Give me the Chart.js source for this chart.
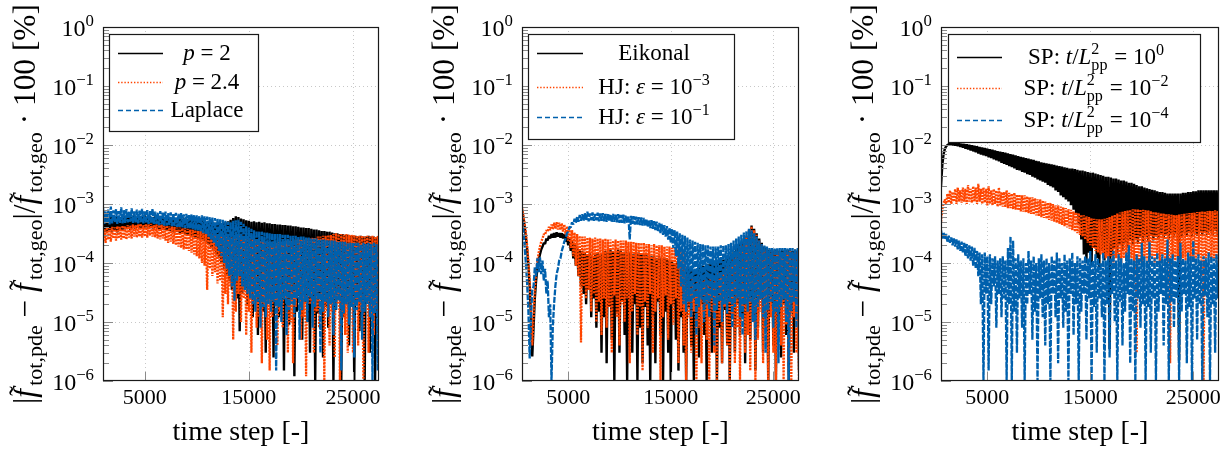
<!DOCTYPE html>
<html>
<head>
<meta charset="utf-8">
<script src="https://cdn.jsdelivr.net/npm/chart.js@4.4.1/dist/chart.umd.min.js"></script>
<style>
  html, body { margin: 0; padding: 0; background: #fff; }
  #wrap { position: relative; width: 1232px; height: 457px; overflow: hidden; }
  canvas { position: absolute; top: 0; }
  #warn { position: absolute; left: 300px; top: 200px; color: red; font: 20px sans-serif; }
</style>
</head>
<body>
<div id="wrap">
  <canvas id="chartA" width="400" height="457" style="left:0px"></canvas>
  <canvas id="chartB" width="400" height="457" style="left:410px"></canvas>
  <canvas id="chartC" width="412" height="457" style="left:820px"></canvas>
  <div id="warn"></div>
</div>
<script>
// time steps of the first panel (p-Poisson runs start later)
const stepsA = [
  1000, 1125, 1250, 1375, 1500, 1625, 1750, 1875, 2000, 2125, 2250, 2375, 2500, 2625, 2750, 2875,
  3000, 3125, 3250, 3375, 3500, 3625, 3750, 3875, 4000, 4125, 4250, 4375, 4500, 4625, 4750, 4875,
  5000, 5125, 5250, 5375, 5500, 5625, 5750, 5875, 6000, 6125, 6250, 6375, 6500, 6625, 6750, 6875,
  7000, 7125, 7250, 7375, 7500, 7625, 7750, 7875, 8000, 8125, 8250, 8375, 8500, 8625, 8750, 8875,
  9000, 9125, 9250, 9375, 9500, 9625, 9750, 9875, 10000, 10125, 10250, 10375, 10500, 10625, 10750, 10875,
  11000, 11125, 11250, 11375, 11500, 11625, 11750, 11875, 12000, 12125, 12250, 12375, 12500, 12625, 12750, 12875,
  13000, 13125, 13250, 13375, 13500, 13625, 13750, 13875, 14000, 14125, 14250, 14375, 14500, 14625, 14750, 14875,
  15000, 15125, 15250, 15375, 15500, 15625, 15750, 15875, 16000, 16125, 16250, 16375, 16500, 16625, 16750, 16875,
  17000, 17125, 17250, 17375, 17500, 17625, 17750, 17875, 18000, 18125, 18250, 18375, 18500, 18625, 18750, 18875,
  19000, 19125, 19250, 19375, 19500, 19625, 19750, 19875, 20000, 20125, 20250, 20375, 20500, 20625, 20750, 20875,
  21000, 21125, 21250, 21375, 21500, 21625, 21750, 21875, 22000, 22125, 22250, 22375, 22500, 22625, 22750, 22875,
  23000, 23125, 23250, 23375, 23500, 23625, 23750, 23875, 24000, 24125, 24250, 24375, 24500, 24625, 24750, 24875,
  25000, 25125, 25250, 25375, 25500, 25625, 25750, 25875, 26000, 26125, 26250, 26375, 26500, 26625, 26750, 26875,
  27000, 27125, 27250, 27375, 27500
];
// time steps of the second and third panel
const stepsB = [
  500, 625, 750, 875, 1000, 1125, 1250, 1375, 1500, 1625, 1750, 1875, 2000, 2125, 2250, 2375,
  2500, 2625, 2750, 2875, 3000, 3125, 3250, 3375, 3500, 3625, 3750, 3875, 4000, 4125, 4250, 4375,
  4500, 4625, 4750, 4875, 5000, 5125, 5250, 5375, 5500, 5625, 5750, 5875, 6000, 6125, 6250, 6375,
  6500, 6625, 6750, 6875, 7000, 7125, 7250, 7375, 7500, 7625, 7750, 7875, 8000, 8125, 8250, 8375,
  8500, 8625, 8750, 8875, 9000, 9125, 9250, 9375, 9500, 9625, 9750, 9875, 10000, 10125, 10250, 10375,
  10500, 10625, 10750, 10875, 11000, 11125, 11250, 11375, 11500, 11625, 11750, 11875, 12000, 12125, 12250, 12375,
  12500, 12625, 12750, 12875, 13000, 13125, 13250, 13375, 13500, 13625, 13750, 13875, 14000, 14125, 14250, 14375,
  14500, 14625, 14750, 14875, 15000, 15125, 15250, 15375, 15500, 15625, 15750, 15875, 16000, 16125, 16250, 16375,
  16500, 16625, 16750, 16875, 17000, 17125, 17250, 17375, 17500, 17625, 17750, 17875, 18000, 18125, 18250, 18375,
  18500, 18625, 18750, 18875, 19000, 19125, 19250, 19375, 19500, 19625, 19750, 19875, 20000, 20125, 20250, 20375,
  20500, 20625, 20750, 20875, 21000, 21125, 21250, 21375, 21500, 21625, 21750, 21875, 22000, 22125, 22250, 22375,
  22500, 22625, 22750, 22875, 23000, 23125, 23250, 23375, 23500, 23625, 23750, 23875, 24000, 24125, 24250, 24375,
  24500, 24625, 24750, 24875, 25000, 25125, 25250, 25375, 25500, 25625, 25750, 25875, 26000, 26125, 26250, 26375,
  26500, 26625, 26750, 26875, 27000, 27125, 27250, 27375, 27500
];

// panel 1: p = 2, p = 2.4, Laplace
const p2Err = [
  5.5e-4, 3.4e-4, 6.0e-4, 3.3e-4, 5.7e-4, 3.6e-4, 6.2e-4, 3.4e-4, 5.8e-4, 3.5e-4, 6.1e-4, 3.3e-4, 5.6e-4, 3.6e-4, 6.0e-4, 3.5e-4,
  6.2e-4, 3.7e-4, 5.9e-4, 3.8e-4, 6.3e-4, 3.6e-4, 6.0e-4, 3.9e-4, 6.4e-4, 3.8e-4, 6.1e-4, 4.0e-4, 6.3e-4, 3.8e-4, 6.0e-4, 3.9e-4,
  6.4e-4, 4.0e-4, 6.1e-4, 3.8e-4, 6.3e-4, 3.9e-4, 6.0e-4, 3.7e-4, 6.2e-4, 4.0e-4, 5.9e-4, 3.8e-4, 6.1e-4, 3.7e-4, 6.0e-4, 3.6e-4,
  5.9e-4, 3.6e-4, 6.0e-4, 3.5e-4, 5.8e-4, 3.4e-4, 5.9e-4, 3.3e-4, 5.7e-4, 3.4e-4, 5.8e-4, 3.2e-4, 5.6e-4, 3.3e-4, 5.7e-4, 3.1e-4,
  5.6e-4, 3.0e-4, 5.5e-4, 2.9e-4, 5.4e-4, 2.8e-4, 5.5e-4, 2.7e-4, 5.3e-4, 2.6e-4, 5.2e-4, 2.5e-4, 5.3e-4, 2.4e-4, 5.1e-4, 2.3e-4,
  5.0e-4, 2.1e-4, 4.9e-4, 1.8e-4, 5.0e-4, 1.6e-4, 4.8e-4, 1.4e-4, 4.9e-4, 1.2e-4, 4.7e-4, 1.0e-4, 4.8e-4, 8.0e-5, 4.9e-4, 6.0e-5,
  5.1e-4, 5.0e-5, 5.4e-4, 3.5e-5, 5.8e-4, 4.5e-5, 6.2e-4, 2.5e-5, 6.0e-4, 7.0e-6, 5.7e-4, 3.0e-5, 5.5e-4, 4.0e-5, 5.3e-4, 2.0e-5,
  5.2e-4, 2.5e-5, 5.0e-4, 1.2e-5, 5.1e-4, 3.0e-5, 4.9e-4, 6.0e-6, 5.0e-4, 2.0e-5, 4.8e-4, 1.5e-5, 4.9e-4, 3.0e-6, 4.7e-4, 2.5e-5,
  4.7e-4, 1.8e-5, 4.6e-4, 2.5e-6, 4.6e-4, 2.2e-5, 4.5e-4, 1.2e-5, 4.5e-4, 2.8e-5, 4.4e-4, 1.5e-6, 4.4e-4, 1.8e-5, 4.3e-4, 9.0e-6,
  4.3e-4, 2.5e-5, 4.2e-4, 1.2e-6, 4.2e-4, 1.5e-5, 4.1e-4, 2.8e-5, 4.0e-4, 5.0e-6, 4.0e-4, 2.0e-5, 3.9e-4, 1.0e-5, 3.9e-4, 3.0e-6,
  3.8e-4, 2.2e-5, 3.7e-4, 1.0e-6, 3.7e-4, 1.4e-5, 3.6e-4, 2.6e-5, 3.5e-4, 2.5e-6, 3.5e-4, 1.8e-5, 3.4e-4, 8.0e-6, 3.4e-4, 2.4e-5,
  3.3e-4, 1.0e-6, 3.2e-4, 1.6e-5, 3.2e-4, 2.5e-5, 3.1e-4, 8.0e-7, 3.1e-4, 1.2e-5, 3.0e-4, 2.2e-5, 3.0e-4, 4.0e-6, 2.9e-4, 1.8e-5,
  2.9e-4, 1.0e-6, 2.9e-4, 2.0e-5, 2.8e-4, 7.0e-6, 2.9e-4, 1.4e-5, 2.8e-4, 1.0e-6, 2.8e-4, 2.4e-5, 2.9e-4, 3.0e-6, 2.8e-4, 1.6e-5,
  2.8e-4, 1.0e-6, 2.7e-4, 1.2e-5, 2.8e-4
];
const p24Err = [
  2.4e-4, 3.8e-4, 2.2e-4, 4.0e-4, 2.5e-4, 3.9e-4, 2.3e-4, 4.1e-4, 2.6e-4, 4.0e-4, 2.4e-4, 4.2e-4, 2.6e-4, 4.1e-4, 2.5e-4, 4.3e-4,
  2.6e-4, 4.2e-4, 2.5e-4, 4.4e-4, 2.7e-4, 4.3e-4, 2.6e-4, 4.5e-4, 2.8e-4, 4.4e-4, 2.7e-4, 4.5e-4, 2.8e-4, 4.6e-4, 2.7e-4, 4.4e-4,
  2.8e-4, 4.6e-4, 2.7e-4, 4.5e-4, 2.9e-4, 4.6e-4, 2.8e-4, 4.4e-4, 2.7e-4, 4.5e-4, 2.6e-4, 4.4e-4, 2.5e-4, 4.5e-4, 2.6e-4, 4.3e-4,
  2.4e-4, 4.3e-4, 2.2e-4, 4.2e-4, 2.3e-4, 4.2e-4, 2.1e-4, 4.1e-4, 2.0e-4, 4.0e-4, 1.9e-4, 4.0e-4, 1.8e-4, 3.9e-4, 1.7e-4, 3.9e-4,
  1.7e-4, 3.8e-4, 1.6e-4, 3.7e-4, 1.5e-4, 3.7e-4, 1.4e-4, 3.6e-4, 1.3e-4, 3.5e-4, 1.2e-4, 3.5e-4, 1.0e-4, 3.4e-4, 9.0e-5, 3.3e-4,
  3.5e-5, 3.2e-4, 8.0e-5, 3.2e-4, 6.0e-5, 3.1e-4, 7.0e-5, 3.0e-4, 4.5e-5, 3.0e-4, 5.0e-5, 2.9e-4, 1.2e-5, 2.8e-4, 3.0e-5, 2.8e-4,
  2.0e-5, 2.7e-4, 4.0e-5, 2.7e-4, 5.0e-6, 2.8e-4, 1.5e-5, 2.9e-4, 3.0e-5, 3.0e-4, 1.0e-5, 2.9e-4, 2.5e-5, 2.8e-4, 6.0e-6, 2.7e-4,
  1.5e-5, 2.6e-4, 3.0e-6, 2.5e-4, 2.0e-5, 2.5e-4, 8.0e-6, 2.4e-4, 1.2e-5, 2.4e-4, 2.0e-6, 2.3e-4, 1.8e-5, 2.3e-4, 5.0e-6, 2.3e-4,
  1.5e-6, 2.2e-4, 1.2e-5, 2.3e-4, 2.2e-5, 2.2e-4, 4.0e-6, 2.3e-4, 1.5e-5, 2.3e-4, 8.0e-6, 2.3e-4, 2.5e-5, 2.4e-4, 3.0e-6, 2.4e-4,
  1.0e-5, 2.4e-4, 2.0e-6, 2.4e-4, 1.8e-5, 2.5e-4, 3.0e-5, 2.5e-4, 5.0e-6, 2.5e-4, 1.2e-5, 2.5e-4, 1.2e-6, 2.6e-4, 2.0e-5, 2.6e-4,
  2.0e-5, 2.7e-4, 3.0e-6, 2.7e-4, 1.5e-5, 2.8e-4, 8.0e-6, 2.8e-4, 2.5e-5, 2.9e-4, 1.0e-6, 2.9e-4, 1.5e-5, 3.0e-4, 4.0e-6, 3.0e-4,
  1.5e-5, 3.1e-4, 2.5e-6, 3.2e-4, 2.0e-5, 3.1e-4, 9.0e-7, 3.1e-4, 1.2e-5, 3.0e-4, 6.0e-6, 3.1e-4, 3.0e-6, 3.0e-4, 2.2e-5, 3.0e-4,
  3.0e-6, 3.0e-4, 2.0e-5, 2.9e-4, 4.0e-6, 2.9e-4, 1.5e-5, 2.9e-4, 1.0e-6, 2.8e-4, 2.5e-5, 2.9e-4, 3.0e-6, 2.8e-4, 1.2e-5, 2.9e-4,
  6.0e-6, 2.8e-4, 1.5e-5, 2.9e-4, 3.0e-6
];
const laplaceErr = [
  8.5e-4, 4.6e-4, 7.5e-4, 4.8e-4, 8.0e-4, 4.5e-4, 9.0e-4, 4.7e-4, 7.8e-4, 4.9e-4, 8.2e-4, 4.6e-4, 7.6e-4, 4.8e-4, 8.8e-4, 4.7e-4,
  7.9e-4, 4.8e-4, 8.2e-4, 4.9e-4, 7.6e-4, 5.0e-4, 8.4e-4, 4.8e-4, 7.5e-4, 4.9e-4, 8.0e-4, 4.7e-4, 7.7e-4, 4.8e-4, 8.3e-4, 4.7e-4,
  7.5e-4, 4.7e-4, 7.9e-4, 4.6e-4, 7.6e-4, 4.7e-4, 8.3e-4, 4.5e-4, 7.4e-4, 4.6e-4, 7.2e-4, 4.4e-4, 7.6e-4, 4.5e-4, 7.3e-4, 4.3e-4,
  7.4e-4, 4.3e-4, 7.0e-4, 4.4e-4, 7.2e-4, 4.2e-4, 6.9e-4, 4.2e-4, 7.1e-4, 4.1e-4, 6.8e-4, 4.0e-4, 7.0e-4, 4.0e-4, 6.7e-4, 3.9e-4,
  6.8e-4, 3.9e-4, 6.6e-4, 3.8e-4, 6.7e-4, 3.7e-4, 6.5e-4, 3.6e-4, 6.4e-4, 3.5e-4, 6.3e-4, 3.4e-4, 6.4e-4, 3.2e-4, 6.2e-4, 3.1e-4,
  6.1e-4, 2.8e-4, 6.0e-4, 2.5e-4, 5.9e-4, 2.2e-4, 5.8e-4, 1.9e-4, 5.7e-4, 1.6e-4, 5.5e-4, 1.3e-4, 5.4e-4, 1.0e-4, 5.2e-4, 8.0e-5,
  5.0e-4, 6.0e-5, 4.9e-4, 4.0e-5, 5.2e-4, 2.3e-5, 5.3e-4, 5.0e-5, 5.4e-4, 6.0e-5, 5.0e-4, 4.0e-5, 4.6e-4, 3.5e-5, 4.2e-4, 3.0e-5,
  4.0e-4, 2.5e-5, 3.8e-4, 2.0e-5, 3.6e-4, 1.5e-5, 3.5e-4, 2.2e-5, 3.4e-4, 8.0e-6, 3.4e-4, 1.8e-5, 3.3e-4, 1.2e-5, 3.3e-4, 2.0e-5,
  3.2e-4, 1.5e-5, 3.2e-4, 2.2e-5, 3.1e-4, 1.5e-6, 3.1e-4, 1.8e-5, 3.1e-4, 1.0e-5, 3.0e-4, 2.4e-5, 3.0e-4, 6.0e-6, 3.0e-4, 1.6e-5,
  2.9e-4, 2.0e-5, 2.9e-4, 1.2e-5, 2.9e-4, 2.5e-5, 2.8e-4, 5.0e-6, 2.8e-4, 1.6e-5, 2.8e-4, 2.2e-5, 2.7e-4, 1.0e-5, 2.7e-4, 2.6e-5,
  2.6e-4, 8.0e-6, 2.6e-4, 1.8e-5, 2.6e-4, 2.4e-5, 2.5e-4, 3.0e-6, 2.5e-4, 1.5e-5, 2.5e-4, 2.2e-5, 2.5e-4, 1.2e-5, 2.4e-4, 2.0e-5,
  2.4e-4, 6.0e-6, 2.4e-4, 1.6e-5, 2.3e-4, 2.3e-5, 2.3e-4, 1.5e-6, 2.3e-4, 1.4e-5, 2.3e-4, 2.0e-5, 2.2e-4, 9.0e-6, 2.2e-4, 1.8e-5,
  2.2e-4, 2.5e-6, 2.2e-4, 1.6e-5, 2.2e-4, 2.2e-5, 2.1e-4, 5.0e-6, 2.2e-4, 1.5e-5, 2.1e-4, 2.0e-5, 2.2e-4, 1.2e-5, 2.1e-4, 1.0e-6,
  2.2e-4, 1.4e-5, 2.1e-4, 1.5e-6, 2.2e-4
];

// panel 2: Eikonal, HJ eps = 1e-3, HJ eps = 1e-1
const eikonalErr = [
  8.0e-4, 6.0e-4, 4.2e-4, 2.8e-4, 1.7e-4, 9.0e-5, 4.0e-5, 1.2e-5, 2.6e-6, 8.0e-6, 2.5e-5, 5.0e-5, 8.0e-5, 1.1e-4, 1.4e-4, 1.7e-4,
  1.9e-4, 2.2e-4, 2.1e-4, 2.6e-4, 2.4e-4, 2.9e-4, 2.6e-4, 3.1e-4, 2.7e-4, 3.2e-4, 2.7e-4, 3.3e-4, 2.8e-4, 3.2e-4, 2.7e-4, 3.2e-4,
  2.6e-4, 3.1e-4, 2.3e-4, 2.9e-4, 2.0e-4, 2.7e-4, 1.6e-4, 2.4e-4, 1.2e-4, 2.1e-4, 9.0e-5, 1.9e-4, 6.0e-5, 1.7e-4, 4.0e-5, 1.6e-4,
  3.0e-5, 1.5e-4, 2.0e-5, 1.4e-4, 3.5e-5, 1.5e-4, 1.2e-5, 1.3e-4, 2.5e-5, 1.4e-4, 8.0e-6, 1.5e-4, 1.5e-5, 1.4e-4, 3.0e-6, 1.5e-4,
  1.2e-5, 1.6e-4, 2.0e-6, 1.5e-4, 1.8e-5, 1.7e-4, 5.0e-6, 1.6e-4, 1.0e-6, 1.5e-4, 1.4e-5, 1.7e-4, 3.0e-6, 1.6e-4, 2.2e-5, 1.5e-4,
  6.0e-6, 1.6e-4, 1.0e-6, 1.5e-4, 1.5e-5, 1.6e-4, 3.0e-6, 1.4e-4, 2.0e-5, 1.5e-4, 1.0e-6, 1.5e-4, 8.0e-6, 1.4e-4, 2.0e-6, 1.4e-4,
  1.8e-5, 1.4e-4, 4.0e-6, 1.3e-4, 1.0e-6, 1.3e-4, 1.2e-5, 1.3e-4, 2.0e-6, 1.2e-4, 2.2e-5, 1.3e-4, 6.0e-6, 1.2e-4, 1.0e-6, 1.2e-4,
  1.5e-5, 1.2e-4, 3.0e-6, 1.1e-4, 1.0e-6, 1.1e-4, 2.0e-5, 1.0e-4, 5.0e-6, 1.0e-4, 1.5e-6, 9.5e-5, 1.2e-5, 9.0e-5, 3.0e-6, 9.0e-5,
  1.0e-6, 8.5e-5, 1.8e-5, 8.0e-5, 4.0e-6, 7.5e-5, 1.0e-6, 7.5e-5, 1.2e-5, 8.0e-5, 2.5e-6, 8.5e-5, 2.0e-5, 9.0e-5, 6.0e-6, 9.0e-5,
  1.0e-6, 9.5e-5, 1.4e-5, 1.0e-4, 3.0e-6, 1.0e-4, 2.2e-5, 1.05e-4, 1.0e-6, 1.1e-4, 8.0e-6, 1.1e-4, 2.0e-6, 1.15e-4, 1.6e-5, 1.2e-4,
  4.0e-6, 1.3e-4, 1.0e-6, 1.4e-4, 1.5e-5, 1.6e-4, 3.0e-6, 1.8e-4, 2.0e-5, 2.1e-4, 6.0e-6, 2.3e-4, 1.2e-5, 2.6e-4, 2.0e-6, 2.8e-4,
  1.5e-5, 3.6e-4, 5.0e-6, 4.3e-4, 2.0e-5, 3.8e-4, 1.5e-6, 3.2e-4, 8.0e-6, 2.6e-4, 2.5e-5, 2.2e-4, 3.0e-6, 1.9e-4, 1.2e-5, 1.8e-4,
  1.0e-6, 1.7e-4, 1.8e-5, 1.6e-4, 4.0e-6, 1.7e-4, 1.0e-6, 1.7e-4, 1.2e-5, 1.6e-4, 2.5e-6, 1.7e-4, 2.0e-5, 1.6e-4, 6.0e-6, 1.7e-4,
  1.0e-6, 1.7e-4, 1.4e-5, 1.6e-4, 3.0e-6, 1.7e-4, 2.0e-5, 1.6e-4, 1.5e-6
];
const hj3Err = [
  8.5e-4, 6.5e-4, 4.8e-4, 3.3e-4, 2.0e-4, 1.1e-4, 5.0e-5, 1.8e-5, 4.0e-6, 1.2e-5, 3.5e-5, 7.0e-5, 1.1e-4, 1.5e-4, 1.9e-4, 2.3e-4,
  2.6e-4, 3.1e-4, 3.0e-4, 3.6e-4, 3.4e-4, 4.1e-4, 3.6e-4, 4.5e-4, 3.7e-4, 4.8e-4, 3.8e-4, 4.9e-4, 3.7e-4, 4.8e-4, 3.6e-4, 4.7e-4,
  3.4e-4, 4.5e-4, 3.0e-4, 4.2e-4, 2.4e-4, 3.9e-4, 1.8e-4, 3.6e-4, 1.3e-4, 3.3e-4, 9.0e-5, 3.1e-4, 6.0e-5, 2.9e-4, 4.5e-6, 2.8e-4,
  4.0e-5, 2.8e-4, 2.5e-5, 2.7e-4, 3.5e-5, 2.7e-4, 1.5e-5, 2.6e-4, 3.0e-5, 2.7e-4, 1.0e-5, 2.6e-4, 2.2e-5, 2.6e-4, 6.0e-6, 2.5e-4,
  2.5e-5, 2.6e-4, 8.0e-6, 2.5e-4, 1.8e-5, 2.5e-4, 3.0e-6, 2.4e-4, 2.8e-5, 2.5e-4, 1.2e-5, 2.4e-4, 4.0e-6, 2.4e-4, 2.0e-5, 2.4e-4,
  1.0e-5, 2.4e-4, 2.5e-5, 2.3e-4, 2.0e-6, 2.3e-4, 1.5e-5, 2.3e-4, 3.0e-5, 2.2e-4, 6.0e-6, 2.2e-4, 1.8e-5, 2.2e-4, 1.5e-6, 2.2e-4,
  2.2e-5, 2.1e-4, 8.0e-6, 2.1e-4, 3.0e-5, 2.0e-4, 3.0e-6, 2.1e-4, 1.5e-5, 2.0e-4, 2.5e-5, 2.0e-4, 1.0e-6, 2.0e-4, 1.2e-5, 1.9e-4,
  2.8e-5, 1.9e-4, 5.0e-6, 1.9e-4, 2.0e-5, 1.8e-4, 9.0e-6, 1.8e-4, 2.5e-5, 1.7e-4, 2.0e-6, 1.7e-4, 1.5e-5, 1.6e-4, 4.0e-6, 1.5e-4,
  1.0e-6, 6.0e-5, 1.2e-5, 5.0e-5, 3.0e-6, 5.5e-5, 1.5e-5, 4.5e-5, 1.0e-6, 5.0e-5, 8.0e-6, 4.5e-5, 2.0e-6, 5.0e-5, 1.2e-5, 5.5e-5,
  5.0e-6, 5.0e-5, 1.0e-6, 6.0e-5, 1.5e-5, 5.5e-5, 3.0e-6, 6.0e-5, 1.0e-6, 7.0e-5, 1.0e-5, 7.0e-5, 2.0e-6, 8.0e-5, 1.8e-5, 8.5e-5,
  4.0e-6, 9.0e-5, 1.0e-6, 1.0e-4, 1.2e-5, 1.2e-4, 2.0e-6, 1.4e-4, 8.0e-6, 1.7e-4, 1.0e-6, 2.0e-4, 1.5e-5, 2.4e-4, 3.0e-6, 2.9e-4,
  6.0e-6, 3.7e-4, 1.5e-6, 4.2e-4, 1.2e-5, 3.6e-4, 1.0e-6, 3.0e-4, 5.0e-6, 2.4e-4, 1.5e-5, 2.0e-4, 2.0e-6, 1.7e-4, 8.0e-6, 1.6e-4,
  1.0e-6, 1.6e-4, 1.2e-5, 1.5e-4, 3.0e-6, 1.6e-4, 1.0e-6, 1.5e-4, 1.6e-5, 1.6e-4, 4.0e-6, 1.5e-4, 1.0e-6, 1.6e-4, 9.0e-6, 1.5e-4,
  2.0e-6, 1.6e-4, 1.0e-6, 1.5e-4, 1.2e-5, 1.6e-4, 3.0e-6, 1.5e-4, 1.0e-6
];
const hj1Err = [
  5.5e-4, 3.5e-4, 2.0e-4, 1.0e-4, 4.5e-5, 1.5e-5, 2.4e-6, 1.2e-5, 3.5e-5, 4.0e-5, 8.5e-5, 6.0e-5, 1.2e-4, 7.0e-5, 1.25e-4, 6.5e-5,
  1.1e-4, 5.0e-5, 8.0e-5, 3.0e-5, 5.0e-5, 1.2e-5, 2.0e-5, 1.0e-6, 8.0e-6, 2.0e-5, 4.0e-5, 6.5e-5, 8.0e-5, 1.1e-4, 1.2e-4, 1.6e-4,
  1.9e-4, 2.3e-4, 2.6e-4, 3.2e-4, 3.4e-4, 4.1e-4, 4.0e-4, 4.9e-4, 4.5e-4, 5.6e-4, 4.8e-4, 6.1e-4, 5.0e-4, 6.5e-4, 5.2e-4, 6.7e-4,
  5.2e-4, 7.0e-4, 5.3e-4, 7.4e-4, 5.1e-4, 6.9e-4, 5.3e-4, 7.2e-4, 5.2e-4, 6.8e-4, 5.3e-4, 7.1e-4, 5.1e-4, 6.9e-4, 5.2e-4, 7.0e-4,
  5.1e-4, 6.8e-4, 5.0e-4, 6.9e-4, 5.1e-4, 6.7e-4, 4.9e-4, 6.8e-4, 5.0e-4, 6.6e-4, 4.9e-4, 6.7e-4, 4.8e-4, 6.5e-4, 4.8e-4, 6.6e-4,
  4.7e-4, 6.4e-4, 4.7e-4, 6.3e-4, 2.5e-4, 6.3e-4, 4.6e-4, 6.2e-4, 4.5e-4, 6.1e-4, 4.5e-4, 6.0e-4, 4.4e-4, 5.9e-4, 4.3e-4, 5.8e-4,
  4.2e-4, 5.6e-4, 4.1e-4, 5.4e-4, 3.9e-4, 5.3e-4, 3.8e-4, 5.1e-4, 3.6e-4, 5.0e-4, 3.4e-4, 4.8e-4, 3.2e-4, 4.6e-4, 3.0e-4, 4.4e-4,
  2.8e-4, 4.2e-4, 2.5e-4, 4.0e-4, 2.2e-4, 3.8e-4, 1.8e-4, 3.6e-4, 1.3e-4, 3.4e-4, 8.0e-5, 3.2e-4, 4.0e-5, 3.0e-4, 2.0e-5, 2.9e-4,
  1.5e-5, 2.7e-4, 2.2e-5, 2.5e-4, 1.2e-5, 2.4e-4, 2.5e-5, 2.3e-4, 6.0e-6, 2.2e-4, 1.8e-5, 2.1e-4, 2.4e-5, 2.1e-4, 1.0e-5, 2.0e-4,
  2.0e-5, 2.0e-4, 1.2e-5, 1.9e-4, 2.5e-5, 1.9e-4, 4.0e-6, 1.9e-4, 1.6e-5, 1.9e-4, 2.2e-5, 2.0e-4, 1.0e-5, 2.0e-4, 2.0e-5, 2.0e-4,
  1.4e-5, 2.1e-4, 2.2e-5, 2.2e-4, 8.0e-6, 2.4e-4, 1.8e-5, 2.6e-4, 2.5e-5, 2.8e-4, 1.2e-5, 3.0e-4, 6.0e-6, 3.3e-4, 2.0e-5, 3.5e-4,
  1.5e-5, 3.8e-4, 2.2e-5, 3.6e-4, 1.0e-5, 3.2e-4, 5.0e-6, 2.8e-4, 1.8e-5, 2.4e-4, 2.4e-5, 2.1e-4, 1.2e-5, 2.0e-4, 3.0e-6, 1.9e-4,
  1.6e-5, 1.8e-4, 2.2e-5, 1.8e-4, 8.0e-6, 1.8e-4, 1.5e-5, 1.8e-4, 2.0e-6, 1.8e-4, 1.8e-5, 1.8e-4, 2.4e-5, 1.8e-4, 1.0e-5, 1.8e-4,
  1.0e-6, 1.8e-4, 1.5e-5, 1.8e-4, 2.2e-5, 1.7e-4, 8.0e-6, 1.8e-4, 1.8e-5
];

// panel 3: SP with t/L_pp^2 = 1e0, 1e-2, 1e-4
const sp0Err = [
  2.0e-3, 4.5e-3, 7.0e-3, 8.6e-3, 9.5e-3, 1.0e-2, 1.03e-2, 1.05e-2, 1.06e-2, 1.0e-2, 1.07e-2, 9.8e-3, 1.07e-2, 9.6e-3, 1.06e-2, 9.3e-3,
  1.05e-2, 9.0e-3, 1.04e-2, 8.7e-3, 1.03e-2, 8.4e-3, 1.01e-2, 8.1e-3, 9.9e-3, 7.8e-3, 9.7e-3, 7.5e-3, 9.5e-3, 7.2e-3, 9.3e-3, 6.9e-3,
  9.1e-3, 6.7e-3, 8.9e-3, 6.5e-3, 8.7e-3, 6.2e-3, 8.5e-3, 6.0e-3, 8.3e-3, 5.7e-3, 8.1e-3, 5.5e-3, 7.9e-3, 5.3e-3, 7.7e-3, 5.0e-3,
  7.6e-3, 4.8e-3, 7.4e-3, 4.6e-3, 7.2e-3, 4.4e-3, 7.0e-3, 4.2e-3, 6.9e-3, 4.0e-3, 6.7e-3, 3.8e-3, 6.5e-3, 3.7e-3, 6.3e-3, 3.5e-3,
  6.2e-3, 3.4e-3, 6.0e-3, 3.2e-3, 5.9e-3, 3.1e-3, 5.7e-3, 2.9e-3, 5.6e-3, 2.8e-3, 5.4e-3, 2.6e-3, 5.3e-3, 2.5e-3, 5.1e-3, 2.4e-3,
  5.0e-3, 2.3e-3, 4.9e-3, 2.1e-3, 4.8e-3, 2.0e-3, 4.7e-3, 1.9e-3, 4.6e-3, 1.7e-3, 4.5e-3, 1.6e-3, 4.4e-3, 1.4e-3, 4.3e-3, 1.3e-3,
  4.2e-3, 1.2e-3, 4.1e-3, 1.1e-3, 4.0e-3, 9.5e-4, 4.0e-3, 8.0e-4, 3.9e-3, 6.5e-4, 3.8e-3, 4.5e-4, 3.7e-3, 2.5e-4, 3.7e-3, 1.4e-4,
  3.6e-3, 1.0e-4, 3.5e-3, 1.5e-4, 3.4e-3, 9.0e-5, 3.4e-3, 1.8e-4, 3.3e-3, 1.2e-4, 3.2e-3, 8.5e-5, 3.1e-3, 1.6e-4, 3.0e-3, 1.1e-4,
  2.9e-3, 1.4e-4, 2.9e-3, 3.5e-6, 2.8e-3, 1.3e-4, 2.7e-3, 1.8e-4, 2.7e-3, 1.5e-4, 2.6e-3, 2.0e-4, 2.5e-3, 1.6e-4, 2.5e-3, 2.2e-4,
  2.4e-3, 1.8e-4, 2.3e-3, 2.4e-4, 2.3e-3, 2.0e-4, 2.2e-3, 2.6e-4, 2.1e-3, 2.1e-4, 2.0e-3, 2.7e-4, 2.0e-3, 2.2e-4, 1.9e-3, 2.8e-4,
  1.85e-3, 2.3e-4, 1.8e-3, 2.9e-4, 1.75e-3, 2.4e-4, 1.7e-3, 3.0e-4, 1.65e-3, 2.5e-4, 1.6e-3, 3.0e-4, 1.6e-3, 2.6e-4, 1.55e-3, 3.1e-4,
  1.5e-3, 2.6e-4, 1.5e-3, 3.1e-4, 1.5e-3, 2.7e-4, 1.5e-3, 3.2e-4, 1.5e-3, 2.2e-6, 1.5e-3, 2.7e-4, 1.55e-3, 3.2e-4, 1.55e-3, 2.8e-4,
  1.6e-3, 3.3e-4, 1.6e-3, 2.8e-4, 1.65e-3, 3.3e-4, 1.65e-3, 2.9e-4, 1.7e-3, 3.4e-4, 1.7e-3, 2.9e-4, 1.7e-3, 3.4e-4, 1.7e-3, 3.0e-4,
  1.7e-3, 3.5e-4, 1.7e-3, 3.0e-4, 1.7e-3, 3.5e-4, 1.7e-3, 3.0e-4, 1.7e-3
];
const sp2Err = [
  5.0e-4, 8.0e-4, 1.05e-3, 1.2e-3, 1.0e-3, 1.5e-3, 1.05e-3, 1.7e-3, 1.0e-3, 1.6e-3, 1.1e-3, 1.8e-3, 1.0e-3, 1.9e-3, 1.1e-3, 1.7e-3,
  1.05e-3, 1.9e-3, 1.1e-3, 1.8e-3, 1.0e-3, 2.1e-3, 1.1e-3, 1.8e-3, 1.05e-3, 2.0e-3, 1.1e-3, 1.9e-3, 1.0e-3, 2.2e-3, 1.1e-3, 1.8e-3,
  1.0e-3, 1.9e-3, 1.05e-3, 1.8e-3, 9.5e-4, 2.0e-3, 1.0e-3, 1.7e-3, 9.5e-4, 1.8e-3, 1.0e-3, 1.7e-3, 9.0e-4, 1.9e-3, 9.5e-4, 1.6e-3,
  9.0e-4, 1.6e-3, 8.8e-4, 1.7e-3, 8.5e-4, 1.55e-3, 8.5e-4, 1.5e-3, 8.2e-4, 1.55e-3, 8.0e-4, 1.45e-3, 7.8e-4, 1.45e-3, 7.5e-4, 1.4e-3,
  7.4e-4, 1.4e-3, 7.2e-4, 1.35e-3, 7.0e-4, 1.3e-3, 6.8e-4, 1.3e-3, 6.6e-4, 1.25e-3, 6.4e-4, 1.2e-3, 6.2e-4, 1.2e-3, 6.0e-4, 1.15e-3,
  5.8e-4, 1.1e-3, 5.6e-4, 1.05e-3, 5.4e-4, 1.05e-3, 5.2e-4, 1.0e-3, 5.0e-4, 9.5e-4, 4.8e-4, 9.5e-4, 4.6e-4, 9.0e-4, 4.4e-4, 8.8e-4,
  4.2e-4, 8.5e-4, 4.0e-4, 8.2e-4, 3.8e-4, 8.0e-4, 3.6e-4, 7.5e-4, 3.4e-4, 7.2e-4, 3.2e-4, 7.0e-4, 3.0e-4, 6.6e-4, 2.8e-4, 6.4e-4,
  2.5e-4, 6.2e-4, 2.2e-4, 6.0e-4, 2.0e-4, 5.8e-4, 1.8e-4, 5.6e-4, 1.6e-4, 5.5e-4, 1.5e-4, 5.5e-4, 1.4e-4, 5.5e-4, 1.3e-4, 5.6e-4,
  1.2e-4, 5.8e-4, 1.1e-4, 6.0e-4, 1.3e-4, 6.3e-4, 1.0e-4, 6.6e-4, 1.2e-4, 6.9e-4, 1.1e-4, 7.2e-4, 1.0e-4, 7.4e-4, 1.2e-4, 7.6e-4,
  1.1e-4, 7.8e-4, 1.0e-4, 8.0e-4, 1.2e-4, 8.1e-4, 1.0e-4, 8.2e-4, 3.0e-6, 8.2e-4, 1.1e-4, 8.1e-4, 1.0e-4, 8.0e-4, 1.2e-4, 7.9e-4,
  1.1e-4, 7.8e-4, 1.0e-4, 7.6e-4, 1.3e-4, 7.4e-4, 1.0e-4, 7.3e-4, 1.2e-4, 7.1e-4, 1.0e-4, 7.0e-4, 1.3e-4, 6.9e-4, 1.1e-4, 6.8e-4,
  1.0e-4, 6.7e-4, 2.0e-6, 6.6e-4, 1.2e-4, 6.5e-4, 1.1e-4, 6.5e-4, 1.3e-4, 6.6e-4, 1.0e-4, 6.7e-4, 1.2e-4, 6.8e-4, 1.1e-4, 6.9e-4,
  1.3e-4, 7.0e-4, 1.1e-4, 7.1e-4, 1.2e-4, 7.2e-4, 1.0e-4, 7.3e-4, 1.3e-4, 7.4e-4, 1.1e-4, 7.5e-4, 1.0e-6, 7.5e-4, 1.2e-4, 7.6e-4,
  1.3e-4, 7.7e-4, 1.1e-4, 7.6e-4, 1.2e-4, 7.8e-4, 1.0e-4, 7.6e-4, 1.2e-4
];
const sp4Err = [
  3.6e-4, 2.6e-4, 3.3e-4, 2.5e-4, 3.1e-4, 2.3e-4, 2.9e-4, 2.2e-4, 2.7e-4, 2.0e-4, 2.6e-4, 1.9e-4, 2.5e-4, 1.7e-4, 2.4e-4, 1.6e-4,
  2.3e-4, 1.5e-4, 2.2e-4, 1.3e-4, 2.1e-4, 1.2e-4, 2.0e-4, 1.1e-4, 1.9e-4, 9.0e-5, 1.8e-4, 8.0e-5, 1.6e-4, 6.0e-5, 1.5e-4, 2.0e-5,
  1.4e-4, 1.0e-6, 1.5e-4, 3.0e-5, 1.3e-4, 1.5e-6, 1.4e-4, 2.0e-5, 1.2e-4, 4.0e-5, 1.3e-4, 8.0e-6, 1.1e-4, 3.0e-5, 1.2e-4, 1.2e-5,
  1.3e-4, 2.5e-5, 1.1e-4, 1.0e-6, 1.8e-4, 2.0e-5, 2.8e-4, 1.0e-6, 2.4e-4, 1.5e-5, 1.2e-4, 3.0e-6, 1.4e-4, 2.5e-5, 1.1e-4, 8.0e-6,
  1.2e-4, 1.0e-6, 1.0e-4, 2.0e-5, 1.6e-4, 3.0e-5, 1.1e-4, 5.0e-6, 1.3e-4, 1.5e-5, 1.0e-4, 1.0e-6, 1.2e-4, 2.5e-5, 1.4e-4, 1.2e-5,
  1.1e-4, 4.0e-6, 1.2e-4, 2.0e-5, 1.0e-4, 1.0e-6, 1.3e-4, 3.0e-5, 1.1e-4, 1.2e-5, 1.5e-4, 2.0e-6, 1.2e-4, 2.5e-5, 1.0e-4, 8.0e-6,
  1.4e-4, 1.5e-5, 1.1e-4, 1.0e-6, 1.2e-4, 3.0e-5, 1.5e-4, 6.0e-6, 1.0e-4, 2.0e-5, 1.3e-4, 1.0e-6, 1.2e-4, 1.5e-5, 1.1e-4, 3.0e-5,
  1.3e-4, 5.0e-6, 1.2e-4, 2.5e-5, 1.6e-4, 1.0e-6, 1.1e-4, 1.8e-5, 1.4e-4, 3.0e-6, 1.2e-4, 2.5e-5, 1.0e-4, 1.2e-5, 1.5e-4, 1.0e-6,
  1.1e-4, 2.0e-5, 1.3e-4, 2.5e-6, 1.2e-4, 3.0e-5, 1.6e-4, 1.0e-5, 1.1e-4, 1.0e-6, 1.4e-4, 2.2e-5, 1.2e-4, 4.0e-6, 1.0e-4, 1.5e-5,
  1.5e-4, 3.0e-5, 2.0e-4, 2.0e-6, 1.2e-4, 1.5e-5, 1.1e-4, 1.0e-6, 1.4e-4, 2.5e-5, 1.2e-4, 8.0e-6, 2.2e-4, 2.0e-5, 1.3e-4, 1.0e-6,
  1.1e-4, 1.8e-5, 2.3e-4, 3.0e-6, 1.3e-4, 2.5e-5, 1.2e-4, 1.0e-6, 1.5e-4, 1.5e-5, 1.1e-4, 3.0e-5, 1.4e-4, 4.0e-6, 1.2e-4, 2.0e-5,
  2.5e-4, 1.0e-6, 1.2e-4, 2.2e-5, 1.4e-4, 8.0e-6, 1.1e-4, 2.5e-5, 1.3e-4, 1.0e-6, 2.2e-4, 1.5e-5, 1.2e-4, 3.0e-5, 1.1e-4, 2.0e-6,
  1.5e-4, 1.8e-5, 1.3e-4, 1.0e-6, 2.4e-4, 2.5e-5, 1.2e-4, 5.0e-6, 1.4e-4, 2.0e-5, 1.1e-4, 1.0e-6, 1.3e-4, 2.8e-5, 1.2e-4, 1.2e-5,
  1.5e-4, 1.0e-6, 1.3e-4, 2.0e-5, 1.2e-4, 3.0e-6, 1.4e-4, 2.5e-5, 1.3e-4
];

// axis ticks
const yMajorTicks = [1e0, 1e-1, 1e-2, 1e-3, 1e-4, 1e-5, 1e-6];
const yTickExponents = ['0', '−1', '−2', '−3', '−4', '−5', '−6'];
const xTickValues = [5000, 15000, 25000];

// text pieces: [text, style, extra]; r roman, i italic, f tilde-f, sub, sup, ss stacked
const yTitle = [['|', 'r'], ['f', 'f'], ['tot,pde', 'sub'], [' − ', 'r'], ['f', 'f'], ['tot,geo', 'sub'],
  ['|/', 'r'], ['f', 'f'], ['tot,geo', 'sub'], [' · 100 [%]', 'r']];
const xTitle = [['time step [-]', 'r']];
const legendA = [
  [['p', 'i'], [' = 2', 'r']],
  [['p', 'i'], [' = 2.4', 'r']],
  [['Laplace', 'r']]
];
const legendB = [
  [['Eikonal', 'r']],
  [['HJ: ', 'r'], ['ε', 'i'], [' = 10', 'r'], ['−3', 'sup']],
  [['HJ: ', 'r'], ['ε', 'i'], [' = 10', 'r'], ['−1', 'sup']]
];
const legendC = [
  [['SP: ', 'r'], ['t', 'i'], ['/', 'r'], ['L', 'i'], ['2', 'ss', 'pp'], [' = 10', 'r'], ['0', 'sup']],
  [['SP: ', 'r'], ['t', 'i'], ['/', 'r'], ['L', 'i'], ['2', 'ss', 'pp'], [' = 10', 'r'], ['−2', 'sup']],
  [['SP: ', 'r'], ['t', 'i'], ['/', 'r'], ['L', 'i'], ['2', 'ss', 'pp'], [' = 10', 'r'], ['−4', 'sup']]
];

const SERIF = '"Liberation Serif", "DejaVu Serif", serif';
const BLACK = '#000000';
const ORANGE = '#ff4500';
const BLUE = '#0060ad';

function partFont(st, size) {
  const small = st === 'sub' || st === 'sup' || st === 'ss';
  const italic = st === 'i' || st === 'f';
  return (italic ? 'italic ' : '') + (small ? size * 0.7 : size).toFixed(1) + 'px ' + SERIF;
}

function partWidth(ctx, p, size) {
  ctx.font = partFont(p[1], size);
  if (p[1] === 'ss') return Math.max(ctx.measureText(p[0]).width, ctx.measureText(p[2]).width) + 1;
  return ctx.measureText(p[0]).width + (p[1] === 'f' ? size * 0.1 : 0);
}

function richWidth(ctx, parts, size) {
  return parts.reduce((w, p) => w + partWidth(ctx, p, size), 0);
}

function drawRich(ctx, parts, x, y, size, align) {
  const total = richWidth(ctx, parts, size);
  let cx = align === 'center' ? x - total / 2 : align === 'right' ? x - total : x;
  ctx.textAlign = 'left';
  ctx.textBaseline = 'alphabetic';
  ctx.fillStyle = '#000';
  parts.forEach(p => {
    const w = partWidth(ctx, p, size);
    const st = p[1];
    if (st === 'sub') ctx.fillText(p[0], cx, y + size * 0.22);
    else if (st === 'sup') ctx.fillText(p[0], cx, y - size * 0.4);
    else if (st === 'ss') {
      ctx.fillText(p[0], cx, y - size * 0.42);
      ctx.fillText(p[2], cx, y + size * 0.24);
    } else ctx.fillText(p[0], cx, y);
    if (st === 'f') {
      ctx.font = (size * 0.9).toFixed(1) + 'px ' + SERIF;
      const tw = ctx.measureText('˜').width;
      ctx.fillText('˜', cx + w * 0.55 - tw / 2, y - size * 0.22);
    }
    cx += w;
  });
}

function hline(ctx, x0, x1, y) {
  ctx.beginPath(); ctx.moveTo(x0, y); ctx.lineTo(x1, y); ctx.stroke();
}
function vline(ctx, x, y0, y1) {
  ctx.beginPath(); ctx.moveTo(x, y0); ctx.lineTo(x, y1); ctx.stroke();
}

// grid, ticks, frame, labels and legend drawn like the pgfplots original
const decor = {
  id: 'decor',
  beforeDatasetsDraw(chart) {
    const { ctx, chartArea: ca, scales: { x, y } } = chart;
    ctx.save();
    ctx.strokeStyle = '#c8c8c8';
    ctx.lineWidth = 1;
    ctx.setLineDash([1, 3]);
    yMajorTicks.slice(1, -1).forEach(v => hline(ctx, ca.left, ca.right, Math.round(y.getPixelForValue(v)) + 0.5));
    xTickValues.forEach(v => vline(ctx, Math.round(x.getPixelForValue(v)) + 0.5, ca.top, ca.bottom));
    ctx.restore();
  },
  afterDraw(chart, args, opts) {
    const { ctx, chartArea: ca, scales: { x, y } } = chart;
    ctx.save();

    // minor and major ticks on the left, major ticks at the bottom
    ctx.strokeStyle = '#8a8a8a';
    ctx.lineWidth = 1;
    for (let e = -6; e < 0; e++) {
      for (let m = 2; m <= 9; m++) {
        hline(ctx, ca.left, ca.left + 6, Math.round(y.getPixelForValue(m * Math.pow(10, e))) + 0.5);
      }
    }
    yMajorTicks.forEach(v => hline(ctx, ca.left, ca.left + 10, Math.round(y.getPixelForValue(v)) + 0.5));
    xTickValues.forEach(v => vline(ctx, Math.round(x.getPixelForValue(v)) + 0.5, ca.bottom, ca.bottom - 9));

    // frame
    ctx.strokeStyle = '#1a1a1a';
    ctx.lineWidth = 1.2;
    ctx.strokeRect(Math.round(ca.left) + 0.5, Math.round(ca.top) + 0.5, Math.round(ca.width) - 1, Math.round(ca.height) - 1);

    // tick labels
    yMajorTicks.forEach((v, i) => {
      drawRich(ctx, [['10', 'r'], [yTickExponents[i], 'sup']], ca.left - 9, y.getPixelForValue(v) + 9, 24, 'right');
    });
    xTickValues.forEach(v => {
      drawRich(ctx, [[String(v), 'r']], x.getPixelForValue(v), ca.bottom + 23, 22, 'center');
    });

    // axis titles
    drawRich(ctx, xTitle, (ca.left + ca.right) / 2, ca.bottom + 59, 28, 'center');
    const base = 27;
    const size = base * 400 / richWidth(ctx, yTitle, base);
    ctx.save();
    ctx.translate(ca.left - 68, (ca.top + ca.bottom) / 2);
    ctx.rotate(-Math.PI / 2);
    drawRich(ctx, yTitle, 0, 0, size, 'center');
    ctx.restore();

    // legend
    const lg = opts.legend;
    const bx = Math.round(ca.left + lg.box[0]) + 0.5;
    const by = Math.round(ca.top + lg.box[1]) + 0.5;
    ctx.fillStyle = '#fff';
    ctx.fillRect(bx, by, lg.box[2], lg.box[3]);
    ctx.strokeStyle = '#1a1a1a';
    ctx.lineWidth = 1.2;
    ctx.strokeRect(bx, by, lg.box[2], lg.box[3]);
    chart.data.datasets.forEach((ds, i) => {
      const ry = ca.top + lg.rowY[i];
      ctx.strokeStyle = ds.borderColor;
      ctx.lineWidth = ds.sampleWidth;
      ctx.setLineDash(ds.sampleDash);
      hline(ctx, ca.left + lg.sample[0], ca.left + lg.sample[1], Math.round(ry) + 0.5);
      ctx.setLineDash([]);
      drawRich(ctx, lg.rows[i], ca.left + lg.textX, ry + 7, 23, 'center');
    });
    ctx.restore();
  }
};

function makeChart(id, steps, series, geom, legend) {
  const n = series.length;
  series.forEach(s => {
    if (s.values.length !== steps.length) {
      document.getElementById('warn').textContent += s.label + ': ' + s.values.length + '/' + steps.length + '  ';
    }
  });
  return new Chart(document.getElementById(id), {
    type: 'line',
    data: {
      datasets: series.map((s, i) => ({
        label: s.label,
        data: s.values.map((v, j) => ({ x: steps[j], y: v })),
        borderColor: s.color,
        borderWidth: s.width,
        borderDash: s.dash,
        borderJoinStyle: 'bevel',
        sampleWidth: s.sampleWidth,
        sampleDash: s.sampleDash,
        pointRadius: 0,
        tension: 0,
        fill: false,
        order: n - 1 - i
      }))
    },
    options: {
      responsive: false,
      animation: false,
      events: [],
      layout: { padding: { left: 0, top: 27, right: geom.right, bottom: 0 } },
      plugins: { legend: { display: false }, tooltip: { enabled: false }, decor: { legend } },
      scales: {
        x: {
          type: 'linear', min: geom.xMin, max: 27500,
          grid: { display: false }, border: { display: false }, ticks: { display: false },
          afterFit(scale) { scale.height = 76; }
        },
        y: {
          type: 'logarithmic', min: 1e-6, max: 1,
          grid: { display: false }, border: { display: false }, ticks: { display: false },
          afterFit(scale) { scale.width = geom.left; }
        }
      }
    },
    plugins: [decor]
  });
}

const solid = { color: BLACK, width: 2.4, dash: [], sampleWidth: 1.4, sampleDash: [] };
const dotted = { color: ORANGE, width: 2.3, dash: [2, 1.2], sampleWidth: 1.4, sampleDash: [1.4, 1.8] };
const dashed = { color: BLUE, width: 2.3, dash: [6, 1.5], sampleWidth: 1.4, sampleDash: [5, 3] };

makeChart('chartA', stepsA, [
  { label: 'p = 2', values: p2Err, ...solid },
  { label: 'p = 2.4', values: p24Err, ...dotted },
  { label: 'Laplace', values: laplaceErr, ...dashed }
], { left: 103, right: 21, xMin: 1000 },
  { rows: legendA, box: [6, 7, 149, 97], rowY: [26, 55, 83], sample: [15, 60], textX: 104 });

makeChart('chartB', stepsB, [
  { label: 'Eikonal', values: eikonalErr, ...solid },
  { label: 'HJ: eps = 1e-3', values: hj3Err, ...dotted },
  { label: 'HJ: eps = 1e-1', values: hj1Err, ...dashed }
], { left: 112, right: 11, xMin: 500 },
  { rows: legendB, box: [6, 7, 206, 105], rowY: [26, 60, 90], sample: [15, 61], textX: 132 });

makeChart('chartC', stepsB, [
  { label: 'SP: t/L_pp^2 = 1e0', values: sp0Err, ...solid },
  { label: 'SP: t/L_pp^2 = 1e-2', values: sp2Err, ...dotted },
  { label: 'SP: t/L_pp^2 = 1e-4', values: sp4Err, ...dashed }
], { left: 121, right: 13, xMin: 500 },
  { rows: legendC, box: [7, 7, 252, 108], rowY: [30, 61, 93], sample: [16, 61], textX: 155 });
</script>
</body>
</html>
